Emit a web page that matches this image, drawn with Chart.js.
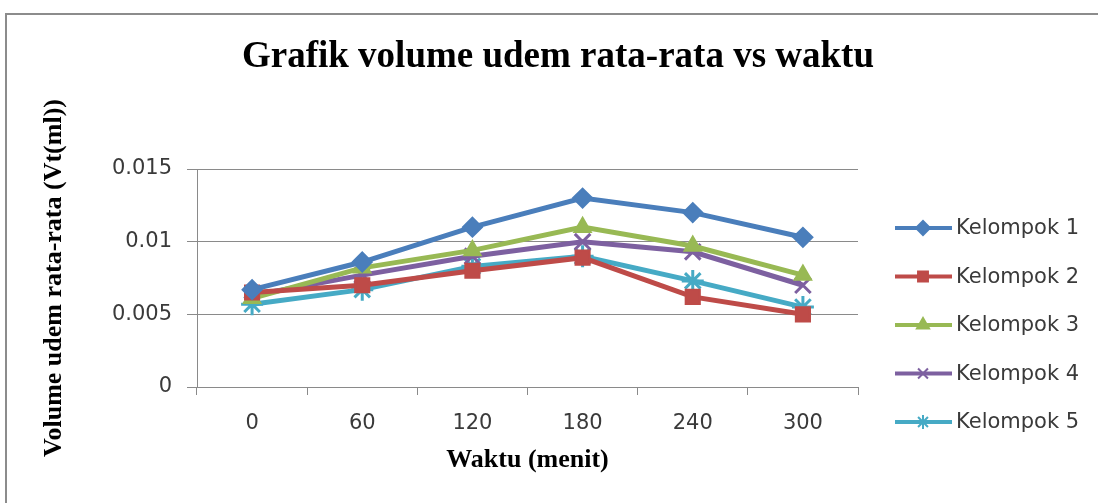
<!DOCTYPE html>
<html>
<head>
<meta charset="utf-8">
<script src="https://cdn.jsdelivr.net/npm/chart.js@4"></script>
<style>
    html, body { margin: 0; padding: 0; background: #fff; overflow: hidden; }
    #wrap { position: relative; width: 1098px; height: 503px; }
    #frame { position: absolute; left: 5px; top: 13px; width: 1200px; height: 600px; border: 2px solid #8c8c8c; box-sizing: border-box; }
    #grafik { position: absolute; left: 0; top: 0; }
</style>
</head>
<body>
<div id="wrap">
    <div id="frame"></div>
    <canvas id="grafik" width="1098" height="503"></canvas>
</div>
<script>
    // data
    const waktu = ["0", "60", "120", "180", "240", "300"];
    const kelompok1 = [0.0067, 0.0086, 0.0110, 0.0130, 0.0120, 0.0103];
    const kelompok2 = [0.0065, 0.0070, 0.0080, 0.0089, 0.0062, 0.0050];
    const kelompok3 = [0.0061, 0.0082, 0.0094, 0.0110, 0.0097, 0.0077];
    const kelompok4 = [0.0063, 0.0077, 0.0090, 0.0100, 0.0093, 0.0070];
    const kelompok5 = [0.0057, 0.0067, 0.0083, 0.0090, 0.0073, 0.0055];
    const yTickValues = [0, 0.005, 0.01, 0.015];
    const yTickLabels = ["0", "0.005", "0.01", "0.015"];

    const namaSeri = ["Kelompok 1", "Kelompok 2", "Kelompok 3", "Kelompok 4", "Kelompok 5"];
    const warna = ["#4a7ebb", "#be4b48", "#98b954", "#7d60a0", "#46aac5"];
    const bentuk = ["rectRot", "rect", "triangle", "crossRot", "star"];
    const ukuran = [9.5, 10, 9.5, 11, 11];
    const tebalTitik = [2, 2, 2, 3, 3];

    const tickFont = { family: "DejaVu Sans", size: 21 };
    const gridColor = "#8a8a8a";

    function makeDataset(i, data) {
        return {
            label: namaSeri[i],
            data: data,
            borderColor: warna[i],
            backgroundColor: warna[i],
            borderWidth: 5,
            pointStyle: bentuk[i],
            pointRadius: ukuran[i],
            pointBorderWidth: tebalTitik[i],
            pointBackgroundColor: warna[i],
            pointBorderColor: warna[i],
            tension: 0
        };
    }

    // judul dan legenda digambar sendiri supaya posisinya sama dengan gambar asli
    const judulLegenda = {
        id: "judulLegenda",
        afterDraw(chart) {
            const ctx = chart.ctx;
            ctx.save();
            ctx.fillStyle = "#000";
            ctx.font = "bold 37px 'Liberation Serif'";
            ctx.textAlign = "center";
            ctx.textBaseline = "middle";
            ctx.fillText("Grafik volume udem rata-rata vs waktu", 558, 57);

            chart.data.datasets.forEach((ds, i) => {
                const y = 228 + i * 48.5;
                ctx.strokeStyle = ds.borderColor;
                ctx.lineWidth = 4;
                ctx.beginPath();
                ctx.moveTo(895, y);
                ctx.lineTo(952, y);
                ctx.stroke();
                ctx.fillStyle = ds.backgroundColor;
                ctx.lineWidth = 2;
                Chart.helpers.drawPoint(ctx, { pointStyle: ds.pointStyle, radius: 7, rotation: 0, borderWidth: 2 }, 923, y);
                ctx.fillStyle = "#3a3a3a";
                ctx.font = "21px 'DejaVu Sans'";
                ctx.textAlign = "left";
                ctx.fillText(ds.label, 956, y + 1);
            });
            ctx.restore();
        }
    };

    new Chart(document.getElementById("grafik"), {
        type: "line",
        data: {
            labels: waktu,
            datasets: [
                makeDataset(0, kelompok1),
                makeDataset(1, kelompok2),
                makeDataset(2, kelompok3),
                makeDataset(3, kelompok4),
                makeDataset(4, kelompok5)
            ]
        },
        options: {
            responsive: false,
            animation: false,
            layout: { padding: { left: 0, right: 240, top: 169, bottom: 0 } },
            plugins: {
                legend: { display: false },
                title: { display: false },
                tooltip: { enabled: false }
            },
            scales: {
                x: {
                    offset: true,
                    grid: { offset: true, drawOnChartArea: false, drawTicks: true, tickLength: 8, color: gridColor },
                    border: { color: gridColor, width: 1 },
                    ticks: { font: tickFont, color: "#3a3a3a", padding: 16 },
                    title: {
                        display: true,
                        text: "Waktu (menit)",
                        color: "#000",
                        font: { family: "Liberation Serif", size: 26, weight: "bold" },
                        padding: { top: 0, bottom: 27 }
                    },
                    afterFit(scale) { scale.height = 116; }
                },
                y: {
                    min: 0,
                    max: 0.015,
                    afterBuildTicks(scale) {
                        scale.ticks = yTickValues.map(v => ({ value: v }));
                    },
                    grid: { color: gridColor, tickLength: 10 },
                    border: { color: gridColor, width: 1 },
                    ticks: {
                        font: tickFont,
                        color: "#3a3a3a",
                        padding: 15,
                        callback: (value) => {
                            const idx = yTickValues.indexOf(value);
                            return idx >= 0 ? yTickLabels[idx] : "";
                        }
                    },
                    title: {
                        display: true,
                        text: "Volume udem rata-rata (Vt(ml))",
                        color: "#000",
                        font: { family: "Liberation Serif", size: 26, weight: "bold" },
                        padding: { top: 39, bottom: 0 }
                    },
                    afterFit(scale) { scale.width = 197; }
                }
            }
        },
        plugins: [judulLegenda]
    });
</script>
</body>
</html>
